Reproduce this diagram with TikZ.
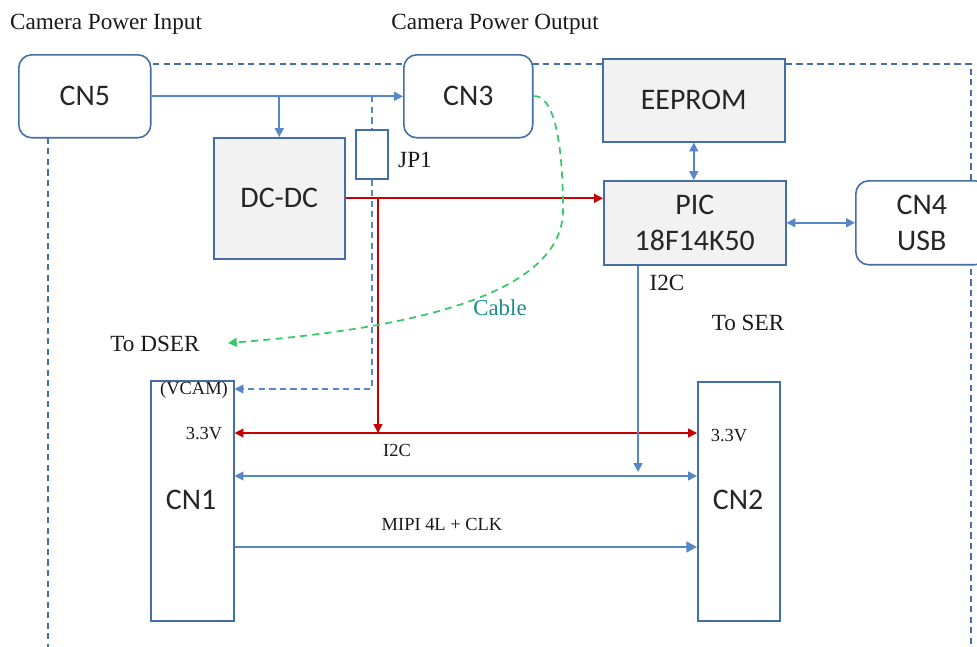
\documentclass[tikz,border=0pt]{standalone}
\usepackage{fontspec}
\setmainfont{Liberation Serif}
\newfontfamily\calfont{Carlito}
\usetikzlibrary{arrows.meta}
\definecolor{boxblue}{RGB}{68,110,168}
\definecolor{lineblue}{RGB}{84,134,200}
\definecolor{pwrred}{RGB}{200,0,0}
\definecolor{cablegreen}{RGB}{55,200,105}
\definecolor{cableteal}{RGB}{25,140,140}
\definecolor{boxgray}{RGB}{242,242,242}
\begin{document}
\begin{tikzpicture}[x=0.02cm,y=-0.02cm,
  box/.style={draw=boxblue, line width=0.9pt, fill=white, inner sep=0pt, anchor=north west,
    align=center, font=\calfont\fontsize{17}{20.5}\selectfont, text=black!85},
  rbox/.style={box, rounded corners=0.26cm},
  gbox/.style={box, fill=boxgray},
  wire/.style={draw=lineblue, line width=0.9pt},
  redwire/.style={draw=pwrred, line width=0.9pt},
  dashwire/.style={draw=lineblue, line width=0.9pt, dash pattern=on 3.5pt off 2.5pt},
  tipb/.tip={Triangle[length=5pt,width=5pt]},
  lbl/.style={font=\fontsize{13.2}{15}\selectfont, text=black!90, inner sep=0pt},
  small/.style={font=\fontsize{10.5}{12}\selectfont, text=black!90, inner sep=0pt}]
\useasboundingbox (0,0) rectangle (977,646);

% outer dashed frame
\draw[draw=boxblue, line width=0.8pt, dash pattern=on 3.5pt off 2.5pt] (48,64) rectangle (971,720);

% boxes
\node[rbox, minimum width=2.64cm, minimum height=1.66cm] (cn5) at (18,54) {CN5};
\node[rbox, minimum width=2.58cm, minimum height=1.66cm] (cn3) at (403,54) {CN3};
\node[gbox, minimum width=2.62cm, minimum height=2.42cm] (dcdc) at (213,137) {DC-DC};
\node[box, minimum width=0.64cm, minimum height=0.98cm] (jp1) at (355,129) {};
\node[gbox, minimum width=3.64cm, minimum height=1.66cm] (eeprom) at (602,58) {EEPROM};
\node[gbox, minimum width=3.64cm, minimum height=1.68cm] (pic) at (603,180) {PIC\\18F14K50};
\node[rbox, minimum width=2.64cm, minimum height=1.68cm] (cn4) at (855,180) {CN4\\USB};
\node[box, minimum width=1.66cm, minimum height=4.8cm] (cn1) at (150,380) {};
\node[box, minimum width=1.64cm, minimum height=4.78cm] (cn2) at (697,381) {};

% texts
\node[lbl] (tin) at (106,24) {Camera Power Input};
\node[lbl] (tout) at (495,24) {Camera Power Output};
\node[lbl] (tjp1) at (415,160) {JP1};
\node[lbl] (ti2ca) at (667,283) {I2C};
\node[lbl] (tser) at (748,323) {To SER};
\node[lbl] (tdser) at (155,344) {To DSER};
\node[font=\fontsize{13}{15}\selectfont, text=cableteal, inner sep=0pt] (tcable) at (500,308) {Cable};
\node[small] (tvcam) at (194,390) {(VCAM)};
\node[small] (t33a) at (204,434) {3.3V};
\node[small] (t33b) at (729,436) {3.3V};
\node[small] (ti2cb) at (397,450) {I2C};
\node[small] (tmipi) at (442,524) {MIPI 4L + CLK};
\node[font=\calfont\fontsize{17}{20}\selectfont, text=black!85, inner sep=0pt] (tcn1) at (191,500) {CN1};
\node[font=\calfont\fontsize{17}{20}\selectfont, text=black!85, inner sep=0pt] (tcn2) at (738,500) {CN2};

% helper coordinates
\coordinate (vcam) at (0,389);
\coordinate (v33) at (0,433);
\coordinate (vi2c) at (0,476);
\coordinate (vmipi) at (0,547);
\coordinate (redx) at (378,0);
\coordinate (i2cx) at (638,0);
\coordinate (i2cend) at (0,472);
\coordinate (dserend) at (228,343);

% power input
\draw[wire, -tipb] (cn5.east) -- (cn3.west);
\draw[wire, -tipb] (dcdc.north |- cn5.east) -- (dcdc.north);
\draw[dashwire] (jp1.north |- cn5.east) -- (jp1.north);
\draw[dashwire, -tipb] (jp1.south) -- (jp1.south |- vcam) -- (cn1.east |- vcam);

% 3.3V
\draw[redwire, -{Triangle[length=5pt,width=5pt]}] (dcdc.east) -- (dcdc.east -| pic.west);
\draw[redwire, -{Triangle[length=5pt,width=5pt]}] (redx |- dcdc.east) -- (redx |- v33);
\draw[redwire, {Triangle[length=5pt,width=5pt]}-{Triangle[length=5pt,width=5pt]}] (cn1.east |- v33) -- (cn2.west |- v33);

% I2C
\draw[wire, tipb-tipb] (cn1.east |- vi2c) -- (cn2.west |- vi2c);
\draw[wire, -tipb] (i2cx |- pic.south) -- (i2cx |- i2cend);
\draw[wire, tipb-tipb] (eeprom.south) -- (eeprom.south |- pic.north);
\draw[wire, tipb-tipb] (pic.east) -- (cn4.west);

% MIPI
\draw[draw=lineblue, line width=1.6pt, -{Triangle[length=6pt,width=6pt]}] (cn1.east |- vmipi) -- (cn2.west |- vmipi);

% cable
\draw[draw=cablegreen, line width=1pt, dash pattern=on 4pt off 3pt, -{Triangle[length=5pt,width=5pt]}]
  (cn3.east) .. controls (552,94) and (563,135) .. (563,210)
  .. controls (563,280) and (460,325) .. (dserend);
\end{tikzpicture}
\end{document}
